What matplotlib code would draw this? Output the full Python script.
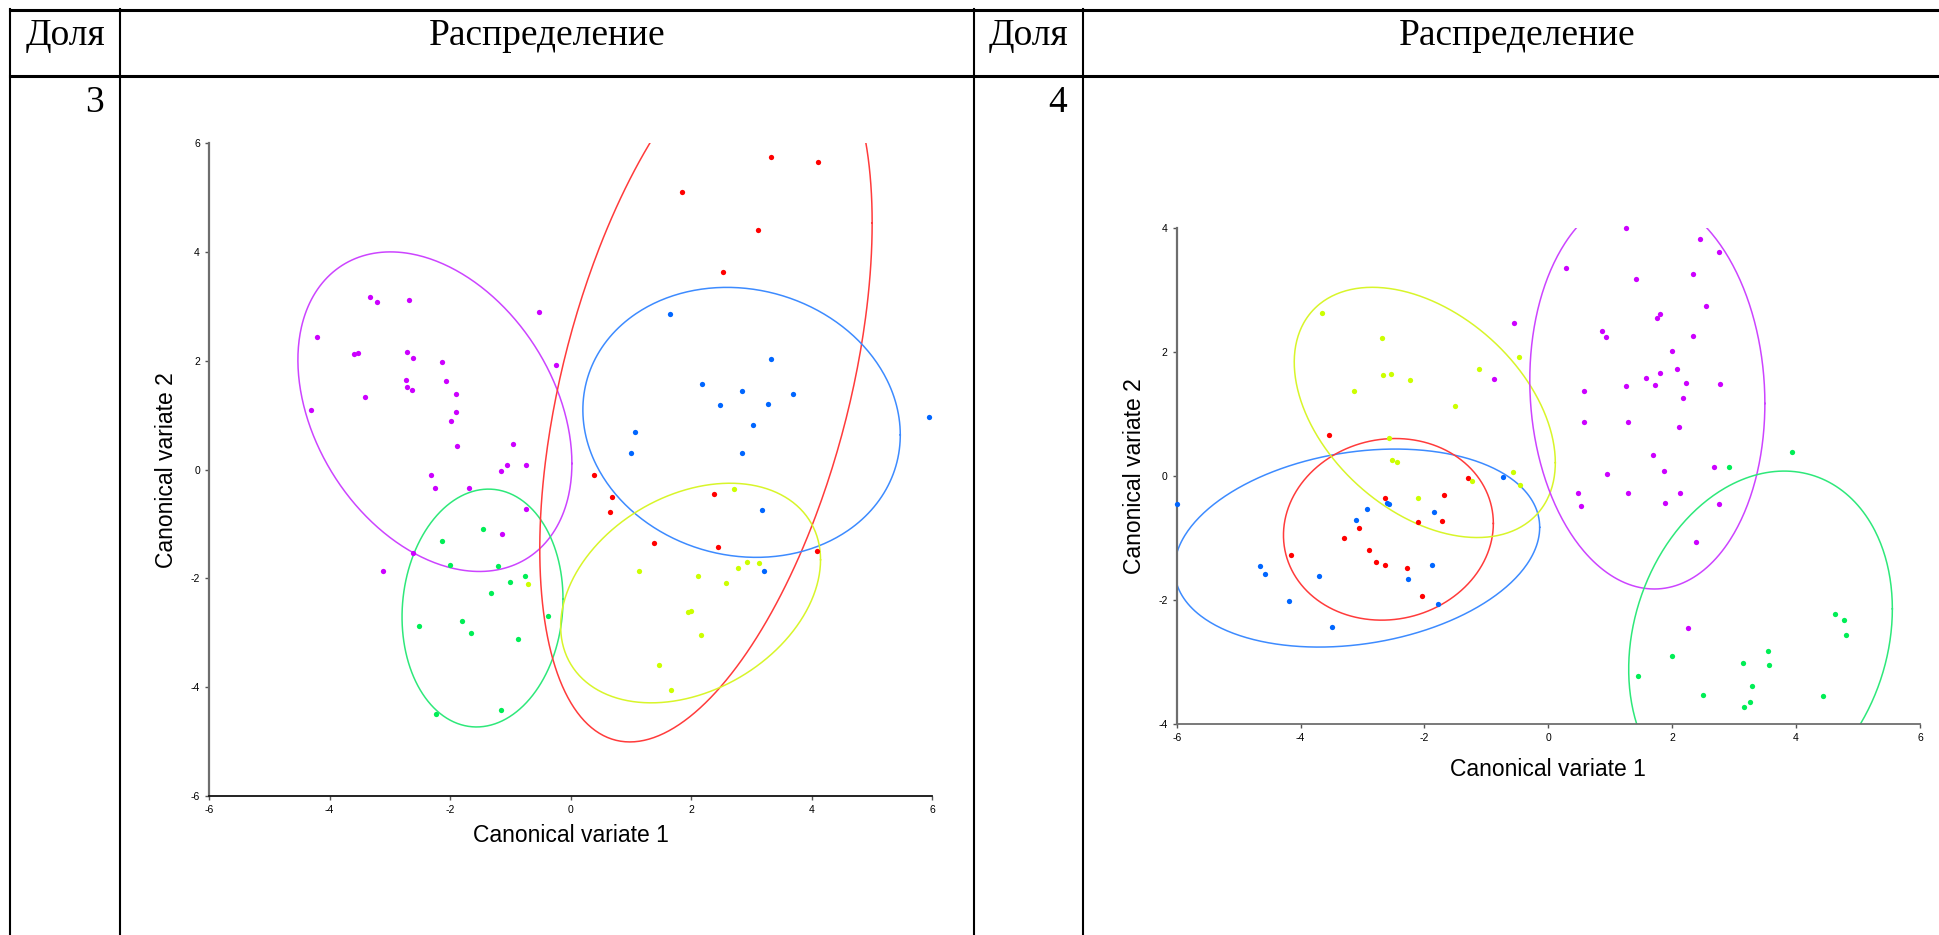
import matplotlib.pyplot as plt
import numpy as np
from matplotlib.lines import Line2D

plt.rcParams['axes.unicode_minus'] = False

# canonical scores, panel "3"
d3_magenta = [(-4.20, 2.43), (-4.30, 1.09), (-3.33, 3.18), (-3.21, 3.08), (-2.68, 3.12),
              (-3.59, 2.12), (-3.53, 2.15), (-3.42, 1.33), (-2.71, 2.16), (-2.61, 2.06),
              (-2.13, 1.98), (-2.73, 1.65), (-2.71, 1.52), (-2.64, 1.46), (-2.07, 1.63),
              (-1.91, 1.40), (-1.91, 1.06), (-1.99, 0.89), (-1.88, 0.43), (-0.53, 2.90),
              (-0.24, 1.93), (-0.96, 0.47), (-1.06, 0.09), (-1.15, -0.03), (-0.74, 0.08),
              (-2.31, -0.09), (-2.25, -0.34), (-1.68, -0.33), (-0.74, -0.72), (-1.14, -1.19),
              (-2.61, -1.54), (-3.11, -1.87)]
d3_blue = [(1.64, 2.86), (3.33, 2.03), (2.18, 1.57), (2.84, 1.45), (3.69, 1.40),
           (2.48, 1.18), (3.28, 1.20), (3.03, 0.82), (1.07, 0.69), (1.00, 0.31),
           (2.84, 0.31), (5.94, 0.96), (3.18, -0.74), (3.20, -1.87)]
d3_red = [(3.33, 5.75), (4.11, 5.65), (1.84, 5.10), (3.10, 4.41), (2.53, 3.63),
          (0.39, -0.09), (0.69, -0.50), (0.66, -0.77), (1.39, -1.35), (2.38, -0.44),
          (2.44, -1.42), (4.08, -1.50)]
d3_yellow = [(-0.71, -2.11), (2.71, -0.35), (1.13, -1.87), (2.11, -1.95), (2.58, -2.09),
             (2.78, -1.80), (2.93, -1.70), (3.12, -1.72), (1.94, -2.61), (1.99, -2.60),
             (2.16, -3.04), (1.46, -3.59), (1.67, -4.06)]
d3_green = [(-1.45, -1.10), (-2.13, -1.31), (-2.00, -1.76), (-1.21, -1.78), (-0.75, -1.95),
            (-1.00, -2.07), (-1.32, -2.27), (-0.38, -2.69), (-2.52, -2.88), (-1.80, -2.78),
            (-1.65, -3.01), (-0.87, -3.11), (-2.24, -4.50), (-1.15, -4.41)]

# panel "4"
d4_magenta = [(-0.56, 2.47), (-0.87, 1.56), (1.26, 4.00), (2.45, 3.81), (2.76, 3.61),
              (0.29, 3.35), (1.42, 3.17), (2.34, 3.25), (2.54, 2.73), (1.75, 2.55),
              (1.80, 2.61), (0.87, 2.33), (0.93, 2.24), (2.33, 2.26), (2.00, 2.02),
              (2.07, 1.73), (1.58, 1.58), (1.81, 1.66), (1.72, 1.47), (2.22, 1.50),
              (2.77, 1.48), (1.25, 1.45), (0.57, 1.36), (2.18, 1.25), (0.58, 0.86),
              (1.28, 0.86), (2.11, 0.79), (1.69, 0.34), (2.67, 0.14), (0.95, 0.03),
              (1.86, 0.08), (0.48, -0.27), (1.28, -0.28), (2.12, -0.27), (0.53, -0.48),
              (1.89, -0.44), (2.76, -0.45), (2.39, -1.07), (2.25, -2.45)]
d4_blue = [(-6.00, -0.45), (-2.61, -0.43), (-2.57, -0.45), (-2.93, -0.54), (-3.10, -0.71),
           (-1.84, -0.59), (-0.73, -0.02), (-4.66, -1.45), (-1.88, -1.44), (-4.58, -1.58),
           (-3.70, -1.61), (-4.19, -2.01), (-3.49, -2.44), (-2.26, -1.67), (-1.78, -2.07)]
d4_red = [(-3.54, 0.66), (-2.64, -0.35), (-1.29, -0.04), (-1.69, -0.31), (-2.11, -0.75),
          (-1.72, -0.72), (-3.05, -0.84), (-3.30, -1.00), (-4.16, -1.27), (-2.90, -1.20),
          (-2.79, -1.39), (-2.63, -1.44), (-2.29, -1.48), (-2.04, -1.94)]
d4_yellow = [(-3.66, 2.63), (-2.68, 2.22), (-2.67, 1.62), (-2.54, 1.64), (-2.23, 1.54),
             (-3.13, 1.36), (-1.12, 1.73), (-1.51, 1.13), (-0.48, 1.92), (-2.58, 0.61),
             (-2.52, 0.25), (-2.44, 0.22), (-2.11, -0.35), (-1.23, -0.08), (-0.57, 0.07),
             (-0.45, -0.15)]
d4_green = [(2.91, 0.14), (3.93, 0.38), (4.63, -2.22), (4.78, -2.33), (4.80, -2.56),
            (1.99, -2.90), (1.45, -3.22), (3.15, -3.01), (3.54, -2.82), (3.56, -3.05),
            (3.28, -3.39), (2.50, -3.54), (3.26, -3.65), (3.16, -3.73), (4.44, -3.55)]

x_ticks = [-6, -4, -2, 0, 2, 4, 6]
y_ticks3 = [-6, -4, -2, 0, 2, 4, 6]
y_ticks4 = [-4, -2, 0, 2, 4]

# point colour, ellipse colour
colors = {'magenta': ('#cc00ff', '#cc44ff'), 'blue': ('#0066ff', '#3d8bff'),
          'red': ('#ff0000', '#ff3b3b'), 'yellow': ('#ccff00', '#d8f52a'),
          'green': ('#00ee55', '#2ee87a')}

W, H = 1939, 935
K90 = np.sqrt(-2 * np.log(0.10))  # 90% ellipse, 2 df


def px(x, y):
    return x / W, 1 - y / H


def draw_group(ax, pts, name):
    pts = np.asarray(pts)
    pc, lc = colors[name]
    mu = pts.mean(axis=0)
    L = np.linalg.cholesky(np.cov(pts.T))
    t = np.linspace(0, 2 * np.pi, 400)
    e = mu[:, None] + K90 * L @ np.vstack([np.cos(t), np.sin(t)])
    ax.plot(e[0], e[1], color=lc, lw=1.1, zorder=2)
    ax.plot(pts[:, 0], pts[:, 1], 'o', color=pc, ms=3.8, mew=0, zorder=3, clip_on=False)


def style_axes(ax, yticks, bottom_color):
    ax.set_xlim(-6, 6)
    ax.set_ylim(yticks[0], yticks[-1])
    ax.set_xticks(x_ticks)
    ax.set_yticks(yticks)
    for s in ['top', 'right']:
        ax.spines[s].set_visible(False)
    ax.spines['left'].set_color('#6e6e6e')
    ax.spines['left'].set_linewidth(1.6)
    ax.spines['bottom'].set_color(bottom_color)
    ax.spines['bottom'].set_linewidth(1.3)
    ax.tick_params(direction='out', length=3, width=1, colors='#555555', labelcolor='black',
                   labelsize=7.5)
    for lab in ax.get_xticklabels() + ax.get_yticklabels():
        lab.set_family('Liberation Sans')
    ax.set_xlabel('Canonical variate 1', fontsize=16.5, family='Liberation Sans')
    ax.set_ylabel('Canonical variate 2', fontsize=16.5, family='Liberation Sans')


fig = plt.figure(figsize=(W / 100, H / 100), dpi=100)

# table grid
for y, lw in [(10, 2.2), (76, 2.2)]:
    fig.add_artist(Line2D([px(10, 0)[0], 1], [px(0, y)[1]] * 2, color='black', lw=lw))
for x in [10, 120, 974, 1083]:
    fig.add_artist(Line2D([px(x, 0)[0]] * 2, [px(0, 9)[1], 0], color='black', lw=1.5))

serif = 'Liberation Serif'
for x, txt in [(65, 'Доля'), (547, 'Распределение'), (1028, 'Доля'), (1517, 'Распределение')]:
    fig.text(*px(x, 45), txt, ha='center', va='baseline', fontsize=27, family=serif)
fig.text(*px(104, 112), '3', ha='right', va='baseline', fontsize=27, family=serif)
fig.text(*px(1067, 112), '4', ha='right', va='baseline', fontsize=27, family=serif)

# panel 3
ax3 = fig.add_axes([209 / W, 1 - 796 / H, 723.3 / W, 652.7 / H])
for name, pts in [('magenta', d3_magenta), ('green', d3_green), ('red', d3_red),
                  ('blue', d3_blue), ('yellow', d3_yellow)]:
    draw_group(ax3, pts, name)
style_axes(ax3, y_ticks3, '#111111')
ax3.yaxis.set_label_coords(-0.043, 0.5)
ax3.xaxis.set_label_coords(0.5, -0.043)

# panel 4
ax4 = fig.add_axes([1176.7 / W, 1 - 724 / H, 743.3 / W, 496.3 / H])
for name, pts in [('blue', d4_blue), ('red', d4_red), ('yellow', d4_yellow),
                  ('magenta', d4_magenta), ('green', d4_green)]:
    draw_group(ax4, pts, name)
style_axes(ax4, y_ticks4, '#6e6e6e')
ax4.yaxis.set_label_coords(-0.041, 0.5)
ax4.xaxis.set_label_coords(0.5, -0.069)

plt.savefig('out.png', dpi=100)
